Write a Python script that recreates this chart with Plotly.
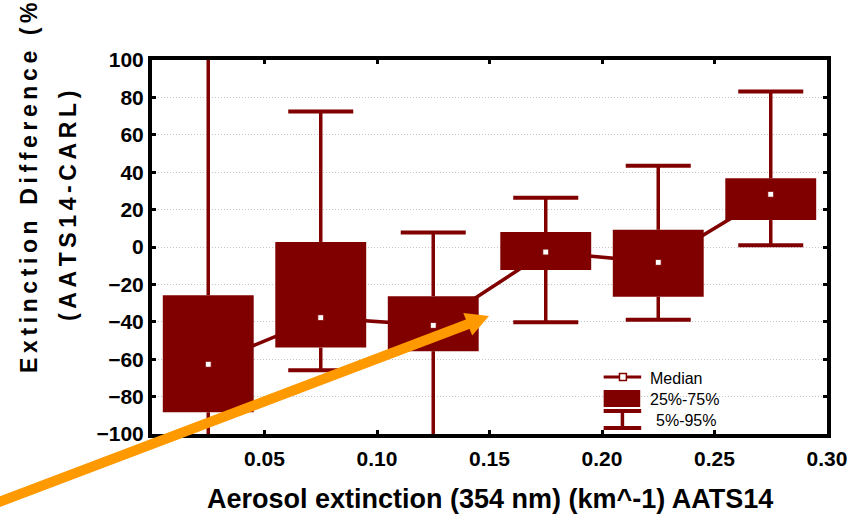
import plotly.graph_objects as go

# Bin centres of aerosol extinction (km^-1) and per-bin statistics of the
# extinction difference (%)
bin_centers = [0.025, 0.075, 0.125, 0.175, 0.225, 0.275]
median = [-62.7, -37.8, -41.9, -2.7, -8.2, 28.2]
q25 = [-88.4, -53.8, -55.7, -12.3, -26.6, 14.4]
q75 = [-25.8, 2.7, -26.3, 8.0, 9.2, 36.7]
p05 = [-112.0, -65.9, -108.0, -40.3, -38.9, 0.9]
p95 = [115.0, 72.4, 7.8, 26.4, 43.5, 83.2]

x_ticks = [0.05, 0.10, 0.15, 0.20, 0.25, 0.30]
x_ticktext = ["0.05", "0.10", "0.15", "0.20", "0.25", "0.30"]
y_ticks = [-100, -80, -60, -40, -20, 0, 20, 40, 60, 80, 100]

MAROON = "#800000"
ORANGE = "#FF9900"
FONT = "Liberation Sans, Arial, sans-serif"

BOX_W = 0.0404
CAP_W = 0.0289

W, H = 859, 514
ML, MR, MT, MB = 152, 24, 60, 80
PW, PH = W - ML - MR, H - MT - MB


def px(x):
    return (x - ML) / PW


def py(y):
    return (H - MB - y) / PH


fig = go.Figure()

# line joining the medians
fig.add_trace(go.Scatter(x=bin_centers, y=median, mode="lines",
                         line=dict(color=MAROON, width=3.5),
                         hoverinfo="skip", showlegend=False))

# whisker stems (outside the boxes)
sx, sy = [], []
for xc, a, b, c, d in zip(bin_centers, p05, q25, q75, p95):
    sx += [xc, xc, None, xc, xc, None]
    sy += [a, b, None, c, d, None]
fig.add_trace(go.Scatter(x=sx, y=sy, mode="lines",
                         line=dict(color=MAROON, width=3.5),
                         hoverinfo="skip", showlegend=False))

# interquartile boxes
fig.add_trace(go.Bar(x=bin_centers,
                     y=[b - a for a, b in zip(q25, q75)],
                     base=q25, width=BOX_W,
                     marker=dict(color=MAROON, line=dict(width=0)),
                     hoverinfo="skip", showlegend=False))

# whisker caps
cx, cy = [], []
for xc, a, d in zip(bin_centers, p05, p95):
    for v in (a, d):
        cx += [xc - CAP_W / 2, xc + CAP_W / 2, None]
        cy += [v, v, None]
fig.add_trace(go.Scatter(x=cx, y=cy, mode="lines",
                         line=dict(color=MAROON, width=4),
                         hoverinfo="skip", showlegend=False))

# median markers
fig.add_trace(go.Scatter(x=bin_centers, y=median, mode="markers",
                         marker=dict(symbol="square", size=6, color="white",
                                     line=dict(color=MAROON, width=1)),
                         hoverinfo="skip", showlegend=False))

shapes = []
annotations = []

# hand-drawn key in the lower right corner
shapes.append(dict(type="line", xref="paper", yref="paper",
                   x0=px(609), x1=px(647), y0=py(377), y1=py(377),
                   line=dict(color=MAROON, width=3)))
shapes.append(dict(type="rect", xref="paper", yref="paper",
                   x0=px(625), x1=px(632), y0=py(373.5), y1=py(380.5),
                   fillcolor="white", line=dict(color=MAROON, width=1.5)))
shapes.append(dict(type="rect", xref="paper", yref="paper",
                   x0=px(609), x1=px(646), y0=py(407), y1=py(390),
                   fillcolor=MAROON, line=dict(width=0)))
for yy in (411, 428):
    shapes.append(dict(type="line", xref="paper", yref="paper",
                       x0=px(609), x1=px(647), y0=py(yy), y1=py(yy),
                       line=dict(color=MAROON, width=4)))
shapes.append(dict(type="line", xref="paper", yref="paper",
                   x0=px(628), x1=px(628), y0=py(411), y1=py(428),
                   line=dict(color=MAROON, width=3.5)))

for text, xx, yy in (("Median", 654, 378), ("25%-75%", 654, 399),
                     ("5%-95%", 660, 420)):
    annotations.append(dict(text=text, xref="paper", yref="paper",
                            x=px(xx), y=py(yy), xanchor="left",
                            yanchor="middle", showarrow=False,
                            font=dict(family=FONT, size=16, color="black")))

# orange pointer arrow
shapes.append(dict(type="line", xref="paper", yref="paper",
                   x0=px(-8), y0=py(504), x1=px(472), y1=py(324),
                   line=dict(color=ORANGE, width=10), layer="above"))
shapes.append(dict(type="path", xref="paper", yref="paper",
                   path=f"M {px(493)} {py(316)} L {px(467)} {py(313)} "
                        f"L {px(476)} {py(335.5)} Z",
                   fillcolor=ORANGE, line=dict(width=0), layer="above"))

# axis titles
spaced = "\u2009".join
annotations.append(dict(text=spaced("Extinction Difference (%)"),
                        xref="paper", yref="paper", x=px(27), y=py(375),
                        xanchor="center", yanchor="bottom", textangle=-90,
                        showarrow=False,
                        font=dict(family=FONT, size=23, color="black",
                                  weight="bold")))
annotations.append(dict(text=spaced("(AATS14-CARL)"),
                        xref="paper", yref="paper", x=px(67), y=py(206),
                        xanchor="center", yanchor="middle", textangle=-90,
                        showarrow=False,
                        font=dict(family=FONT, size=23, color="black",
                                  weight="bold")))
annotations.append(dict(text="Aerosol extinction (354 nm) (km^-1) AATS14",
                        xref="paper", yref="paper", x=0.5, y=py(499),
                        xanchor="center", yanchor="middle", showarrow=False,
                        font=dict(family=FONT, size=27, color="black",
                                  weight="bold")))

fig.update_layout(
    width=W, height=H,
    margin=dict(l=ML, r=MR, t=MT, b=MB, pad=0),
    paper_bgcolor="white", plot_bgcolor="white",
    barmode="overlay", showlegend=False,
    shapes=shapes, annotations=annotations,
)
fig.update_xaxes(range=[0, 0.30], tickvals=x_ticks, ticktext=x_ticktext,
                 showgrid=False, zeroline=False,
                 showline=True, linecolor="black", linewidth=4, mirror="ticks",
                 ticks="inside", ticklen=4, tickwidth=3, tickcolor="black",
                 ticklabelstandoff=3,
                 tickfont=dict(family=FONT, size=21, color="black",
                               weight="bold"))
fig.update_yaxes(range=[-100, 100], tickvals=y_ticks,
                 showgrid=True, gridcolor="#C4C4C4", gridwidth=1,
                 griddash="1px,2px", zeroline=False,
                 showline=True, linecolor="black", linewidth=4, mirror="ticks",
                 ticks="inside", ticklen=4, tickwidth=3, tickcolor="black",
                 tickfont=dict(family=FONT, size=21, color="black",
                               weight="bold"))

fig.write_html("out.html")
